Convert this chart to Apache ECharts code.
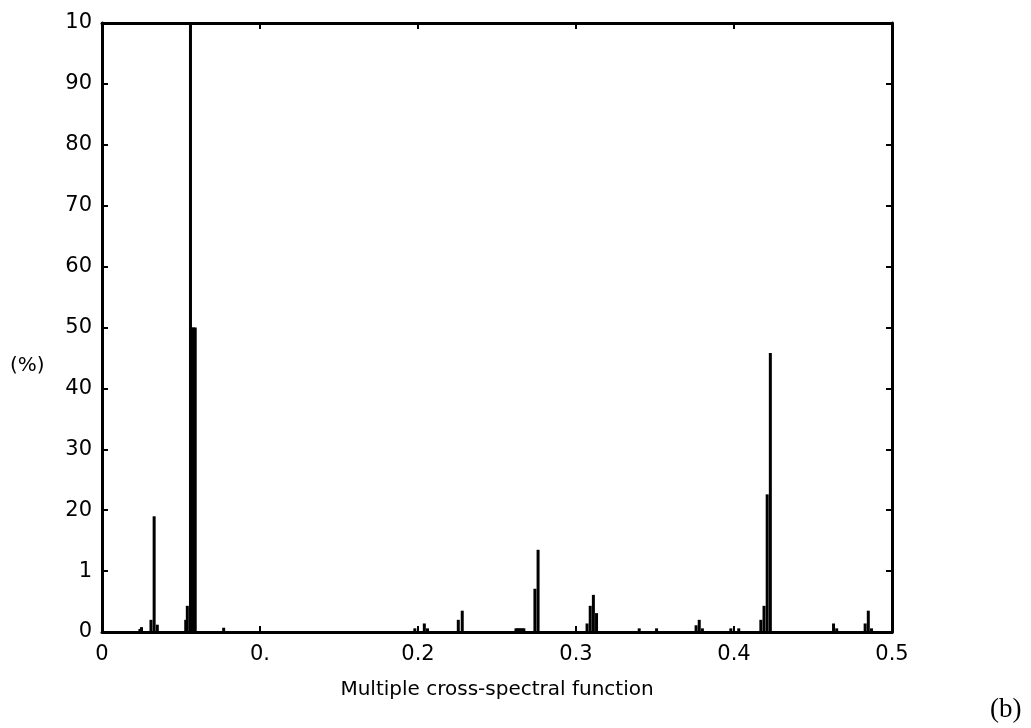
<!DOCTYPE html>
<html>
<head>
<meta charset="utf-8">
<script src="https://cdn.jsdelivr.net/npm/echarts@6/dist/echarts.min.js"></script>
<style>
  html, body { margin: 0; padding: 0; background: #fff; }
  #chart { width: 1031px; height: 728px; }
</style>
</head>
<body>
<div id="chart"></div>
<script>
// spectral peaks: frequency and percent
var freqs = [0.024, 0.025, 0.031, 0.033, 0.035, 0.053, 0.054, 0.056, 0.057, 0.058, 0.059,
  0.077, 0.198, 0.204, 0.206, 0.2255, 0.228, 0.262, 0.263, 0.264, 0.265, 0.266, 0.267,
  0.274, 0.276, 0.307, 0.309, 0.311, 0.313, 0.340, 0.351, 0.376, 0.378, 0.380,
  0.398, 0.403, 0.417, 0.419, 0.421, 0.423, 0.463, 0.465, 0.483, 0.485, 0.487];
var percents = [0.5, 0.8, 2.0, 19.0, 1.2, 2.0, 4.3, 100, 50, 50, 50,
  0.7, 0.6, 1.4, 0.6, 2.0, 3.5, 0.6, 0.6, 0.6, 0.6, 0.6, 0.6,
  7.1, 13.5, 1.4, 4.3, 6.1, 3.1, 0.6, 0.6, 1.1, 2.0, 0.6,
  0.6, 0.6, 2.0, 4.3, 22.6, 45.8, 1.4, 0.6, 1.4, 3.5, 0.6];

// tick labels as printed (some are cut off in the original)
var xTickLabels = ['0', '0.', '0.2', '0.3', '0.4', '0.5'];
var yTickLabels = ['0', '1', '20', '30', '40', '50', '60', '70', '80', '90', '10'];

var barData = freqs.map(function (f, i) { return [f, percents[i]]; });

var font = 'DejaVu Sans';
var chart = echarts.init(document.getElementById('chart'));

var line = { onZero: false, lineStyle: { color: '#000', width: 3 } };
var tick = { show: true, inside: true, length: 6, lineStyle: { color: '#000', width: 2 } };

var option = {
  animation: false,
  backgroundColor: '#fff',
  grid: { left: 102, right: 139, top: 23, bottom: 96 },
  xAxis: [{
    type: 'value', min: 0, max: 0.5, interval: 0.1,
    name: 'Multiple cross-spectral function',
    nameLocation: 'middle', nameGap: 48,
    nameTextStyle: { fontFamily: font, fontSize: 20, color: '#000' },
    axisLine: line,
    axisTick: tick,
    axisLabel: {
      margin: 12, fontFamily: font, fontSize: 21, color: '#000',
      formatter: function (v) { return xTickLabels[Math.round(v * 10)]; }
    },
    splitLine: { show: false }
  }, {
    type: 'value', position: 'top', min: 0, max: 0.5, interval: 0.1,
    axisLine: line,
    axisTick: tick,
    axisLabel: { show: false },
    splitLine: { show: false }
  }],
  yAxis: [{
    type: 'value', min: 0, max: 100, interval: 10,
    axisLine: Object.assign({ show: true }, line),
    axisTick: tick,
    axisLabel: {
      margin: 10, fontFamily: font, fontSize: 21, color: '#000',
      formatter: function (v) { return yTickLabels[Math.round(v / 10)]; }
    },
    splitLine: { show: false }
  }, {
    type: 'value', position: 'right', min: 0, max: 100, interval: 10,
    axisLine: Object.assign({ show: true }, line),
    axisTick: tick,
    axisLabel: { show: false },
    splitLine: { show: false }
  }],
  graphic: [
    { type: 'text', left: 10, top: 356,
      style: { text: '(%)', font: '20px "DejaVu Sans"', fill: '#000' } },
    { type: 'text', left: 990, top: 696,
      style: { text: '(b)', font: '27px "Liberation Serif"', fill: '#000' } }
  ],
  series: [{
    type: 'bar',
    xAxisIndex: 0, yAxisIndex: 0,
    barWidth: 3,
    itemStyle: { color: '#000' },
    data: barData
  }]
};

chart.setOption(option);
</script>
</body>
</html>
